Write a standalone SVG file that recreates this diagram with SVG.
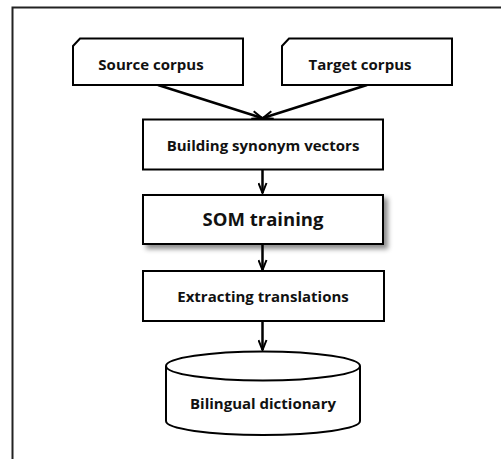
<svg xmlns="http://www.w3.org/2000/svg" width="501" height="459" viewBox="0 0 501 459">
<defs>
<style>
.box{fill:#fff;stroke:#000;stroke-width:2}
.lbl{font-family:"Open Sans","Noto Sans","DejaVu Sans",sans-serif;font-weight:bold;font-size:15px;fill:#111;text-anchor:middle}
.big{font-size:18.5px}
.con{fill:none;stroke:#000;stroke-width:2.5}
</style>
<marker id="ah" viewBox="0 0 12 10" refX="11" refY="5" markerWidth="12" markerHeight="10" markerUnits="userSpaceOnUse" orient="auto">
<path d="M1,1 L11,5 L1,9" fill="none" stroke="#000" stroke-width="2"/>
</marker>
<filter id="sh" x="-10%" y="-20%" width="130%" height="160%">
<feDropShadow dx="4" dy="4" stdDeviation="2.5" flood-color="#000" flood-opacity="0.45"/>
</filter>
</defs>
<rect width="501" height="459" fill="#fff"/>
<rect x="12.5" y="7.5" width="520" height="480" fill="none" stroke="#222" stroke-width="2"/>
<g id="connectors">
<line class="con" x1="158" y1="85" x2="262" y2="118" marker-end="url(#ah)"/>
<line class="con" x1="367" y1="85" x2="263" y2="118" marker-end="url(#ah)"/>
<line class="con" x1="262.5" y1="170" x2="262.5" y2="193" marker-end="url(#ah)"/>
<line class="con" x1="262.5" y1="245" x2="262.5" y2="270" marker-end="url(#ah)"/>
<line class="con" x1="262.5" y1="321" x2="262.5" y2="350" marker-end="url(#ah)"/>
</g>
<g id="source">
<path class="box" d="M73,46 L80,38.5 L243,38.5 L243,85 L73,85 Z"/>
<text class="lbl" x="151" y="70">Source corpus</text>
</g>
<g id="target">
<path class="box" d="M282,46 L289,38.5 L452,38.5 L452,85 L282,85 Z"/>
<text class="lbl" x="360" y="70">Target corpus</text>
</g>
<g id="building">
<rect class="box" x="143" y="119.5" width="240" height="50"/>
<text class="lbl" x="263" y="151">Building synonym vectors</text>
</g>
<g id="som">
<rect class="box" x="143" y="195" width="240" height="49" filter="url(#sh)"/>
<text class="lbl big" x="263" y="226">SOM training</text>
</g>
<g id="extract">
<rect class="box" x="143" y="271" width="241" height="50"/>
<text class="lbl" x="263" y="302">Extracting translations</text>
</g>
<g id="dictionary">
<path class="box" d="M166,366 L166,421 A97,14 0 0 0 360,421 L360,366"/>
<ellipse class="box" cx="263" cy="366" rx="97" ry="14.5"/>
<text class="lbl" x="263" y="408.5">Bilingual dictionary</text>
</g>
</svg>
